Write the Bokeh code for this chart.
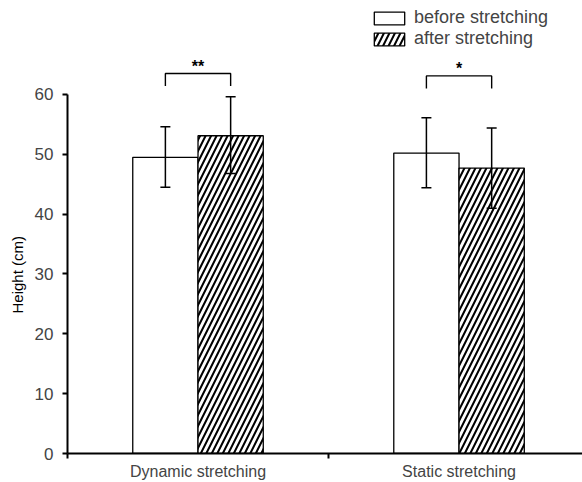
from bokeh.plotting import figure
from bokeh.models import (ColumnDataSource, Range1d, FixedTicker, Whisker, TeeHead,
                          Legend, LegendItem, Title)
from bokeh.core.properties import value
from bokeh.embed import file_html
from bokeh.resources import INLINE
import numpy as np

# ---- data ----
categories = ["Dynamic stretching", "Static stretching"]
series = ["before stretching", "after stretching"]
before_mean = [49.5, 50.2]
before_upper = [54.6, 56.1]
before_lower = [44.5, 44.4]
after_mean = [53.1, 47.7]
after_upper = [59.6, 54.4]
after_lower = [46.8, 41.0]
sig_labels = ["**", "*"]
bracket_top = [63.5, 63.1]
bracket_leg = [61.4, 61.0]
y_ticks = [0, 10, 20, 30, 40, 50, 60]
y_label = "Height (cm)"

FONT = "Liberation Sans"
bar_w = 0.25
idx = np.arange(len(categories))
centers = idx + 0.5
x_before = centers - bar_w / 2
x_after = centers + bar_w / 2

p = figure(width=582, height=482, output_backend="svg", toolbar_location=None,
           x_range=Range1d(0, 1.973), y_range=Range1d(0, 75.7),
           min_border_left=67, min_border_right=0, min_border_top=0, min_border_bottom=29)
p.outline_line_color = None
p.xgrid.visible = False
p.ygrid.visible = False
p.background_fill_color = "white"

src_b = ColumnDataSource(dict(x=x_before, top=before_mean, upper=before_upper, lower=before_lower))
src_a = ColumnDataSource(dict(x=x_after, top=after_mean, upper=after_upper, lower=after_lower))

rb = p.vbar(x="x", top="top", width=bar_w, bottom=0, source=src_b,
            fill_color="white", line_color="black", line_width=1.3)
ra = p.vbar(x="x", top="top", width=bar_w, bottom=0, source=src_a,
            fill_color="white", line_color="black", line_width=1.3,
            hatch_pattern="right_diagonal_line", hatch_color="black",
            hatch_weight=2, hatch_scale=11)

for src in (src_b, src_a):
    w = Whisker(base="x", upper="upper", lower="lower", source=src, dimension="height",
                line_color="black", line_width=1.5, level="overlay",
                upper_head=TeeHead(size=10, line_width=1.5, line_color="black"),
                lower_head=TeeHead(size=10, line_width=1.5, line_color="black"))
    p.add_layout(w)

# significance brackets
xs = [[xb, xb, xa, xa] for xb, xa in zip(x_before, x_after)]
ys = [[l, t, t, l] for l, t in zip(bracket_leg, bracket_top)]
p.multi_line(xs=xs, ys=ys, line_color="black", line_width=1.4)
star_y = [t + 1.2 for t in bracket_top]
p.text(x=list(centers), y=star_y, text=sig_labels, text_align="center",
       text_baseline="middle", text_font=value(FONT), text_font_size="16px",
       text_font_style="bold", text_color="black")

# axes
p.yaxis.ticker = FixedTicker(ticks=y_ticks)
p.yaxis.bounds = (0, 60)
p.yaxis.major_label_text_font = FONT
p.yaxis.major_label_text_font_size = "17px"
p.yaxis.major_label_standoff = 9
p.yaxis.major_tick_out = 5
p.yaxis.major_tick_in = 0
p.yaxis.minor_tick_out = 0
p.yaxis.axis_line_width = 2
p.yaxis.major_tick_line_width = 2

# y-axis title placed along the 0-60 span of the axis
p.add_layout(Title(text=y_label, align="left", offset=140, standoff=12,
                   text_font=FONT, text_font_size="15px", text_font_style="normal",
                   text_color="black"), "left")

p.xaxis.ticker = FixedTicker(ticks=list(centers), minor_ticks=[0, 1, 2])
p.xaxis.major_label_overrides = {float(c): n for c, n in zip(centers, categories)}
p.xaxis.major_label_text_font = FONT
p.xaxis.major_label_text_font_size = "16px"
p.xaxis.major_label_standoff = 4
p.xaxis.major_tick_out = 0
p.xaxis.major_tick_in = 0
p.xaxis.minor_tick_out = 5
p.xaxis.minor_tick_in = 0
p.xaxis.minor_tick_line_width = 2
p.xaxis.axis_line_width = 2

legend = Legend(items=[LegendItem(label=series[0], renderers=[rb]),
                       LegendItem(label=series[1], renderers=[ra])],
                location=(303, 404), orientation="vertical",
                glyph_width=38, glyph_height=16, label_height=14,
                spacing=0, padding=0, margin=0, label_standoff=6,
                label_text_font=FONT, label_text_font_size="18px",
                border_line_color=None, background_fill_alpha=0)
p.add_layout(legend)

open("out.html", "w").write(file_html(p, INLINE))
